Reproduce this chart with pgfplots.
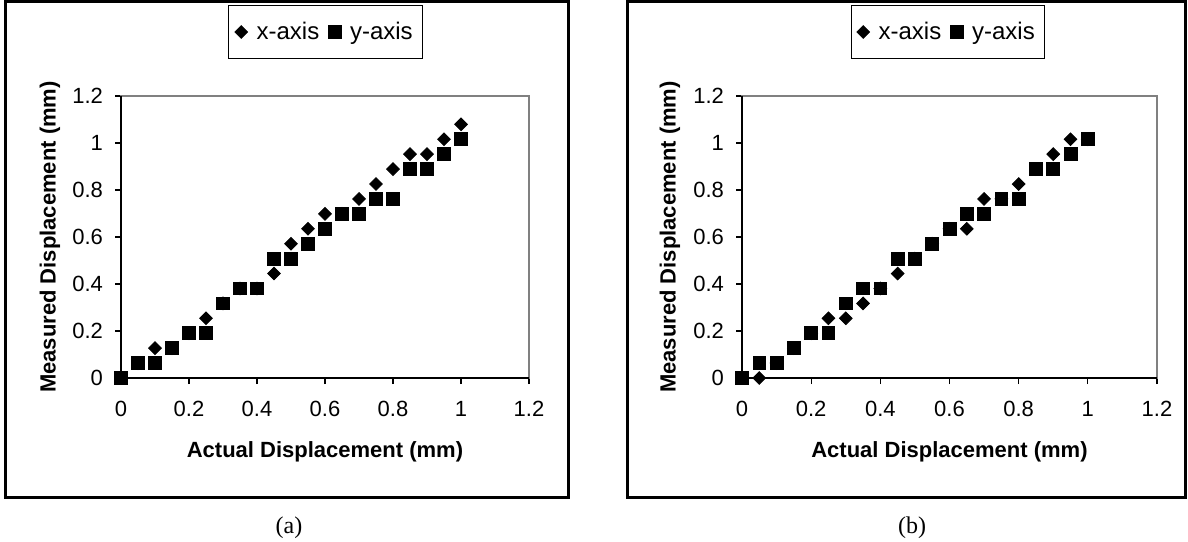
\documentclass[border=0pt]{standalone}
\usepackage{fontspec}
\setmainfont{Liberation Sans}
\newfontfamily\timesfont{Liberation Serif}
\usepackage{pgfplots}
\pgfplotsset{compat=1.18}

\definecolor{plotgray}{RGB}{128,128,128}

\pgfplotsset{
  dispstyle/.style={
    scale only axis,
    height=141pt,
    xmin=0, xmax=1.2, ymin=0, ymax=1.2,
    xtick={0,0.2,0.4,0.6,0.8,1,1.2},
    ytick={0,0.2,0.4,0.6,0.8,1,1.2},
    axis line style={plotgray, line width=0.6pt},
    tick style={black, line width=0.6pt},
    tick align=outside,
    major tick length=3pt,
    xtick pos=bottom, ytick pos=left,
    tick label style={font=\fontsize{11}{13}\selectfont},
    /pgf/number format/assume math mode=true,
    xticklabel style={yshift=-5pt},
    yticklabel style={xshift=-2.5pt},
    clip=false,
    label style={font=\fontsize{11}{13}\selectfont\bfseries},
    xlabel={Actual Displacement (mm)},
    ylabel={Measured Displacement (mm)},
    xlabel style={at={(axis description cs:0.5,-0.262)}, anchor=center},
    legend columns=2,
    legend style={draw=black, line width=0.4pt, fill=white,
      font=\fontsize{12}{14}\selectfont, anchor=center,
      inner xsep=3pt, inner ysep=6pt,
      /tikz/every odd column/.append style={column sep=2.5pt},
      /tikz/every even column/.append style={column sep=2.5pt}},
    legend image code/.code={\draw[#1] plot coordinates {(0pt,0pt)};},
  },
  xser/.style={only marks, mark=square*, mark size=2.25pt,
    mark options={rotate=45, fill=black, draw=black}},
  yser/.style={only marks, mark=square*, mark size=3.2pt,
    mark options={fill=black, draw=black}},
}

\begin{document}
\begin{tikzpicture}
\useasboundingbox (0pt,0pt) rectangle (594pt,270.5pt);

% frames round the two panels
\draw[black, line width=1.5pt] (2.5pt,269.5pt) rectangle (284pt,22pt);
\draw[black, line width=1.5pt] (313.5pt,269.5pt) rectangle (592.5pt,22pt);

% (a)
\begin{axis}[dispstyle, width=204pt,
  at={(60.5pt,81.5pt)}, anchor=south west,
  ylabel style={at={(axis description cs:-0.174,0.5)}, anchor=center},
  legend style={at={(axis description cs:0.502,1.227)}}]
\addplot[xser] coordinates {
(0,0) (0.05,0.0635) (0.1,0.127) (0.15,0.127) (0.2,0.1905) (0.25,0.254)
(0.3,0.3175) (0.35,0.381) (0.4,0.381) (0.45,0.4445) (0.5,0.5715)
(0.55,0.635) (0.6,0.6985) (0.65,0.6985) (0.7,0.762) (0.75,0.8255)
(0.8,0.889) (0.85,0.9525) (0.9,0.9525) (0.95,1.016) (1,1.0795)
};
\addlegendentry{x-axis}
\addplot[yser] coordinates {
(0,0) (0.05,0.0635) (0.1,0.0635) (0.15,0.127) (0.2,0.1905) (0.25,0.1905)
(0.3,0.3175) (0.35,0.381) (0.4,0.381) (0.45,0.508) (0.5,0.508)
(0.55,0.5715) (0.6,0.635) (0.65,0.6985) (0.7,0.6985) (0.75,0.762)
(0.8,0.762) (0.85,0.889) (0.9,0.889) (0.95,0.9525) (1,1.016)
};
\addlegendentry{y-axis}
\draw[black, line width=0.7pt] (axis cs:0,1.2) -- (axis cs:0,0) -- (axis cs:1.2,0);
\end{axis}

% (b)
\begin{axis}[dispstyle, width=207.5pt,
  at={(371pt,81.5pt)}, anchor=south west,
  ylabel style={at={(axis description cs:-0.1735,0.5)}, anchor=center},
  legend style={at={(axis description cs:0.496,1.227)}}]
\addplot[xser] coordinates {
(0,0) (0.05,0) (0.1,0.0635) (0.15,0.127) (0.2,0.1905) (0.25,0.254)
(0.3,0.254) (0.35,0.3175) (0.4,0.381) (0.45,0.4445) (0.5,0.508)
(0.55,0.5715) (0.6,0.635) (0.65,0.635) (0.7,0.762) (0.75,0.762)
(0.8,0.8255) (0.85,0.889) (0.9,0.9525) (0.95,1.016) (1,1.016)
};
\addlegendentry{x-axis}
\addplot[yser] coordinates {
(0,0) (0.05,0.0635) (0.1,0.0635) (0.15,0.127) (0.2,0.1905) (0.25,0.1905)
(0.3,0.3175) (0.35,0.381) (0.4,0.381) (0.45,0.508) (0.5,0.508)
(0.55,0.5715) (0.6,0.635) (0.65,0.6985) (0.7,0.6985) (0.75,0.762)
(0.8,0.762) (0.85,0.889) (0.9,0.889) (0.95,0.9525) (1,1.016)
};
\addlegendentry{y-axis}
\draw[black, line width=0.7pt] (axis cs:0,1.2) -- (axis cs:0,0) -- (axis cs:1.2,0);
\end{axis}

\node[font=\timesfont\fontsize{12}{14}\selectfont] at (144.5pt,6.5pt) {(a)};
\node[font=\timesfont\fontsize{12}{14}\selectfont] at (456pt,6.5pt) {(b)};
\end{tikzpicture}
\end{document}
